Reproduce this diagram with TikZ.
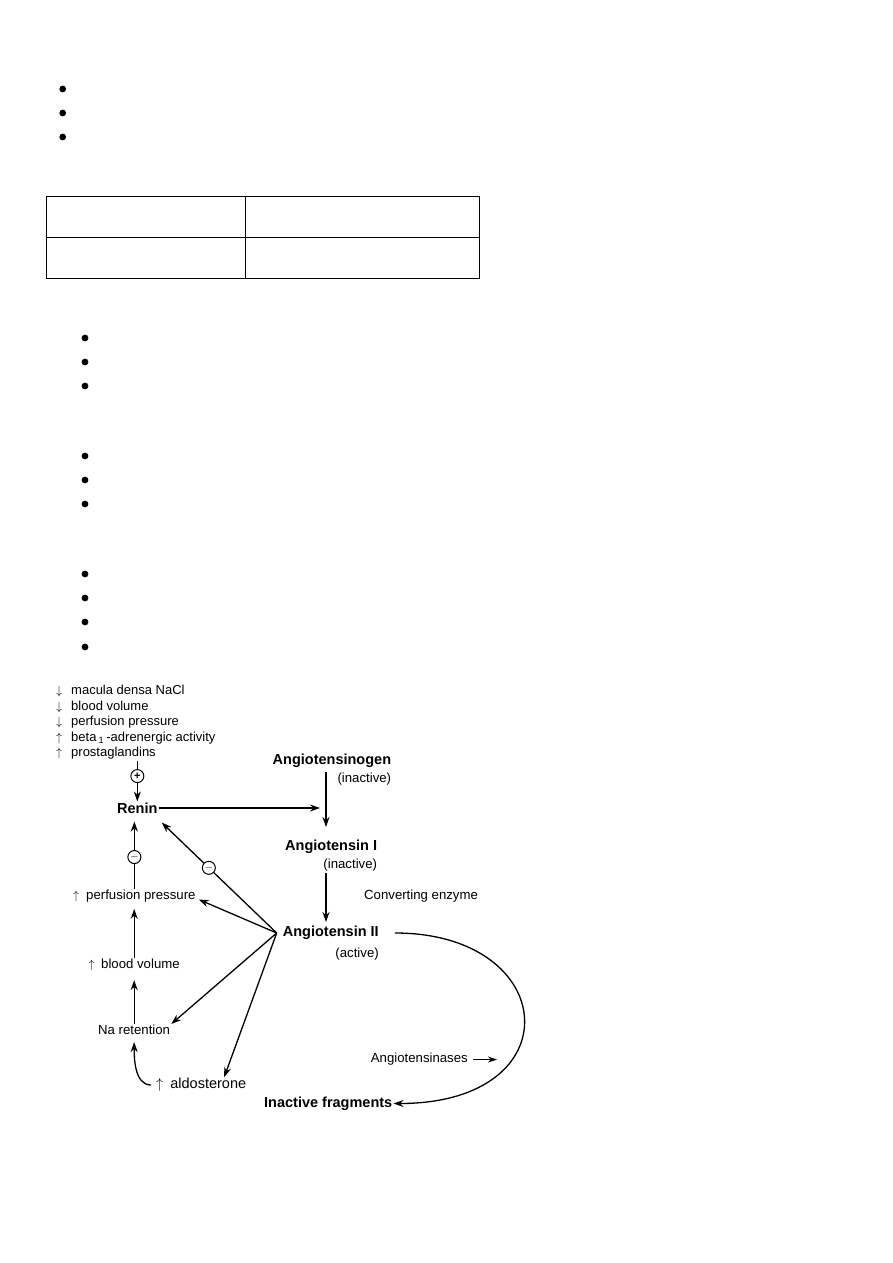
\documentclass[tikz,border=0pt]{standalone}
\usepackage{fontspec}
\setmainfont{Liberation Sans}
\usepackage{tikz}
\usetikzlibrary{arrows.meta, positioning}

\begin{document}
\begin{tikzpicture}[x=1pt, y=-1pt, every node/.style={inner sep=1pt},
    lbl/.style={font=\fontsize{13.2}{15.5}\selectfont},
    key/.style={font=\fontsize{14.5}{17}\selectfont\bfseries},
    sign/.style={circle, draw, fill=white, inner sep=0pt, minimum size=13pt, line width=1pt, font=\fontsize{11}{11}\selectfont\bfseries},
    arr/.style={-{Stealth[length=10pt, width=7pt]}, line width=1.3pt}]

    \useasboundingbox (0,0) rectangle (893,1263);

    % empty bullets and table
    \foreach \y in {89,113,137} \fill (62.7,\y) circle[radius=3.4pt];
    \foreach \y in {338,362,386,456,480,504,574,598,622,647} \fill (85,\y) circle[radius=3.4pt];
    \draw[line width=1.2pt] (46.7,196.7) rectangle (479.3,278.5);
    \draw[line width=1.2pt] (46.7,237.3) -- (479.3,237.3) (245.3,196.7) -- (245.3,278.5);

    % stimuli list
    \node[lbl, font=\fontsize{13}{15.5}\selectfont, anchor=north west, align=left] (stim) at (55,684)
        {$\downarrow$\hspace{9pt}macula densa NaCl \\ $\downarrow$\hspace{9pt}blood volume \\ $\downarrow$\hspace{9pt}perfusion pressure \\
         $\uparrow$\hspace{9pt}beta\,\textsubscript{1}\,-adrenergic activity \\ $\uparrow$\hspace{9pt}prostaglandins};

    % main cascade
    \node[key, anchor=west] (renin) at (116,808) {Renin};
    \node[key, anchor=west] (agen) at (271.5,761) {Angiotensinogen};
    \node[lbl, anchor=north east, yshift=-3pt] (agenstate) at (agen.south east) {(inactive)};
    \node[key, anchor=west] (ang1) at (284,847) {Angiotensin I};
    \node[lbl, anchor=north east, yshift=-3pt] (ang1state) at (ang1.south east) {(inactive)};
    \node[lbl, anchor=west] (conv) at (363,896) {Converting enzyme};
    \node[key, anchor=west] (ang2) at (281.7,933) {Angiotensin II};
    \node[lbl, anchor=north east, yshift=-6pt] (ang2state) at (ang2.south east) {(active)};
    \node[key, anchor=west] (inact) at (263,1103.5) {Inactive fragments};
    \node[lbl, anchor=west] (ases) at (369.7,1059.5) {Angiotensinases};
    \coordinate[right=28pt of ases] (asestip);

    % feedback side
    \node[lbl, anchor=west] (perf) at (72,896.5) {$\uparrow$\hspace{7pt}perfusion pressure};
    \node[lbl, anchor=west] (blood) at (87.5,965) {$\uparrow$\hspace{6.5pt}blood volume};
    \node[lbl, anchor=west] (na) at (97,1030) {Na retention};
    \node[lbl, font=\fontsize{14.5}{17}\selectfont, anchor=west] (aldo) at (155,1085) {$\uparrow$\hspace{7pt}aldosterone};

    \coordinate (ax) at (326,0);
    \coordinate (hub) at ([xshift=-5pt]ang2.west);

    \draw[arr] (renin.north |- stim.south) -- (renin.north) node[sign, pos=0.38] {+};
    \draw[arr, shorten >=6pt] (renin.east) -- (renin.east -| ax);
    \draw[arr, shorten <=3pt, shorten >=12pt] (agen.south -| ax) -- (ang1.north -| ax);
    \draw[arr, shorten >=3pt] (ang1state.south -| ax) -- (ang2.north -| ax);

    \draw[arr] (hub) -- ([xshift=3pt, yshift=-8pt]renin.south east) node[sign, pos=0.59] {$-$};
    \draw[arr] (hub) -- ([xshift=2pt, yshift=-3pt]perf.east);
    \draw[arr] (hub) -- (na.north east);
    \draw[arr] (hub) -- ([xshift=23pt]aldo.north);

    \draw[arr, shorten >=7pt] (perf.north) -- (perf.north |- renin.south) node[sign, pos=0.43] {$-$};
    \draw[arr, shorten >=5pt] (blood.north) -- (blood.north |- perf.south);
    \draw[arr, shorten >=8pt] (na.north) -- (na.north |- blood.south);
    \draw[arr, shorten <=4pt, shorten >=6pt] (aldo.west) to[out=180, in=-90] (na.south);

    \draw[arr, shorten <=15pt] (ang2.east) to[out=0, in=0, looseness=2.7] (inact.east);
    \draw[-{Stealth[length=9pt, width=6pt]}, line width=1.3pt, shorten <=4pt] (ases.east) -- (asestip);
\end{tikzpicture}
\end{document}
